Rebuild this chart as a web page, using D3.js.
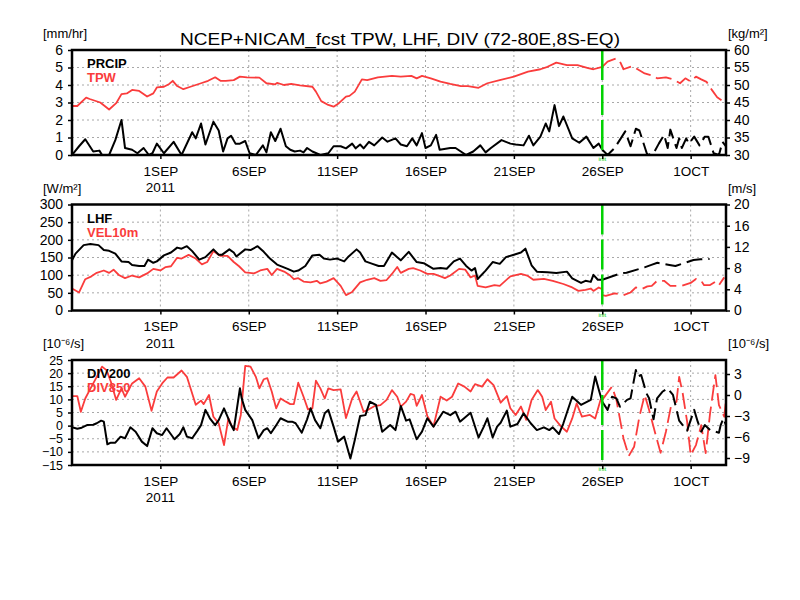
<!DOCTYPE html>
<html>
<head>
<meta charset="utf-8">
<script src="https://cdn.jsdelivr.net/npm/d3@7"></script>
<style>
  body { margin: 0; background: #fff; }
  svg { display: block; }
  text { font-family: "Liberation Sans", Arial, sans-serif; }
</style>
</head>
<body>
<svg id="chart" width="800" height="600"></svg>
<script>
// ---------------- DATA (day offset from 27 Aug 2011 00Z, value) ----------------
const startDate = Date.UTC(2011, 7, 27);
const initDay = 30; // 26 SEP 2011
const titleText = "NCEP+NICAM_fcst TPW, LHF, DIV (72-80E,8S-EQ)";
const tickDays = [5, 10, 15, 20, 25, 30, 35];
const tickLabels = ["1SEP", "6SEP", "11SEP", "16SEP", "21SEP", "26SEP", "1OCT"];
const yearLabel = "2011";

// Panel 1: PRCIP [mm/hr] (left), TPW [kg/m2] (right)
const prcipObs = [[0,0],[0.4,0.5],[0.75,0.9],[1.2,0.2],[1.55,0.25],[1.7,0],[2.1,0],[2.45,0.85],[2.8,2.0],[3.0,0.4],[3.4,0.3],[3.7,0.1],[4.05,0.4],[4.35,0],[4.55,0.1],[4.8,0.65],[5.2,0.1],[5.75,0.75],[6.2,0],[6.8,1.3],[7.0,0.95],[7.3,1.8],[7.55,0.6],[8.0,1.9],[8.3,1.4],[8.55,0.2],[8.8,0.95],[9.0,1.1],[9.25,0.65],[9.5,0.65],[9.8,0.8],[10.05,0.1],[10.4,0],[10.8,0.55],[11.0,0.15],[11.25,1.3],[11.5,0.8],[11.8,1.5],[12.1,0.5],[12.35,0.3],[12.6,0.2],[12.9,0.25],[13.1,0.15],[13.3,0.4],[13.6,0.2],[14.05,0],[14.5,0.1],[14.8,0.5],[15.2,0.5],[15.5,0.38],[15.85,0.65],[16.05,0.38],[16.3,0.6],[16.5,0.38],[16.8,0.75],[17.1,0.55],[17.55,1.0],[17.85,0.76],[18.3,0.95],[18.6,0.6],[18.95,0.5],[19.25,0.95],[19.5,0.55],[19.8,1.25],[20.0,0.4],[20.3,0.55],[20.6,1.15],[20.8,0.3],[21.4,0.4],[21.7,0.4],[22.3,0],[22.7,0.2],[23.1,0.55],[23.4,0.15],[23.7,0.4],[24.3,0.85],[24.8,0.65],[25.1,0.6],[25.55,0.55],[25.85,1.1],[26.1,0.55],[26.5,1.05],[26.8,1.8],[27.0,1.35],[27.3,2.85],[27.55,1.65],[27.8,2.2],[28.3,0.95],[28.7,0.7],[29.1,1.05],[29.5,0.4],[29.8,0.65],[30.0,0.3]];
const prcipFcst = [[30.0,0.3],[30.3,0],[30.7,0.4],[31.05,0.95],[31.3,1.35],[31.6,0.5],[31.9,1.5],[32.1,1.4],[32.55,0],[32.9,0.1],[33.2,0.65],[33.5,1.15],[33.7,0.4],[33.85,1.45],[34.2,0.4],[34.35,0.95],[34.5,0.4],[34.75,0.95],[34.9,0.65],[35.2,1.05],[35.5,0.55],[35.8,1.05],[36.0,1.05],[36.3,0.1],[36.6,0],[36.8,0.75],[37.0,0.5]];
const tpwObs = [[0,44.0],[0.3,44.0],[0.8,46.4],[1.0,46.0],[1.6,45.0],[2.1,43.0],[2.5,44.8],[2.8,47.4],[3.1,47.6],[3.4,48.6],[3.8,48.3],[4.25,46.7],[4.6,47.6],[4.8,49.3],[5.2,49.5],[5.5,50.3],[5.7,51.2],[5.95,49.7],[6.3,48.8],[6.7,49.5],[7.3,50.5],[7.7,51.2],[8.1,52.2],[8.4,51.2],[8.7,51.2],[9.15,51.4],[9.5,52.4],[9.9,52.2],[10.6,52.1],[11.0,50.5],[11.5,50.2],[11.6,50.6],[12.0,50.0],[12.4,50.3],[12.9,49.9],[13.6,49.5],[13.8,48.1],[14.1,45.4],[14.5,44.3],[14.8,43.8],[15.1,44.8],[15.5,46.7],[15.7,46.9],[16.0,48.1],[16.4,51.6],[16.7,51.4],[17.3,52.2],[17.7,52.4],[18.1,52.6],[18.6,52.4],[19.2,52.6],[19.5,51.9],[19.8,52.6],[20.3,51.9],[20.85,50.95],[21.4,50.3],[22.0,49.7],[22.4,49.7],[23.0,49.2],[23.5,50.5],[24.2,51.4],[25.0,52.4],[25.8,53.8],[26.5,54.5],[26.9,55.2],[27.4,56.4],[28.0,55.7],[28.6,55.7],[29.2,54.8],[29.5,54.5],[30.0,55.2]];
const tpwFcst = [[30.0,55.2],[30.3,56.7],[30.8,57.6],[31.0,56.7],[31.2,54.5],[31.7,55.4],[32.0,54.5],[32.4,53.3],[32.9,52.6],[33.1,51.9],[33.6,52.2],[34.0,51.6],[34.4,50.5],[34.7,51.9],[35.0,51.0],[35.3,52.4],[35.6,51.6],[35.9,50.9],[36.2,48.6],[36.5,46.5],[37.0,44.8]];

// Panel 2: LHF [W/m2] (left), VEL10m [m/s] (right)
const lhfObs = [[0,142],[0.2,161],[0.66,185],[1.04,188],[1.5,185],[1.8,171],[2.1,169],[2.45,161],[2.8,139],[3.2,137],[3.4,129],[3.8,126],[4.1,126],[4.3,144],[4.6,135],[4.8,139],[5.2,156],[5.6,164],[5.95,178],[6.2,175],[6.5,182],[6.8,168],[7.2,144],[7.55,151],[8.0,173],[8.3,158],[8.5,158],[8.9,173],[9.15,164],[9.3,153],[9.8,173],[10.1,171],[10.5,182],[10.85,166],[11.2,147],[11.6,130],[12.2,118],[12.55,110],[12.8,113],[13.2,126],[13.6,156],[14.0,158],[14.25,147],[14.6,144],[15.0,147],[15.4,139],[15.65,153],[16.1,173],[16.3,164],[16.6,139],[17.0,132],[17.35,126],[17.65,126],[18.1,164],[18.4,151],[18.6,142],[19.05,166],[19.5,137],[19.9,134],[20.45,118],[20.85,120],[21.2,118],[21.6,139],[21.95,147],[22.3,126],[22.6,113],[22.8,120],[22.95,89],[23.4,113],[23.8,137],[24.2,132],[24.55,151],[25.0,158],[25.4,164],[25.65,175],[26.0,128],[26.3,110],[26.9,108],[27.4,106],[28.0,110],[28.3,91],[28.8,78],[29.05,84],[29.35,81],[29.5,101],[29.75,87],[30.0,87]];
const lhfFcst = [[30.0,87],[31.03,105],[31.37,107],[32.39,122],[32.78,129],[33.12,135],[33.8,129],[34.14,126],[35.16,143],[35.56,145],[36.07,146]];
const velObs = [[0,4.15],[0.4,3.4],[0.75,5.9],[1.1,6.45],[1.4,7.1],[1.8,7.55],[2.1,7.1],[2.35,7.7],[2.65,6.7],[3.0,6.1],[3.4,6.6],[3.8,6.25],[4.25,7.0],[4.6,7.85],[5.0,7.55],[5.3,8.2],[5.6,8.35],[5.95,9.95],[6.2,9.8],[6.6,10.5],[7.0,9.8],[7.35,8.7],[7.65,9.15],[8.0,11.2],[8.4,10.3],[8.8,10.3],[9.15,9.15],[9.45,8.35],[9.8,7.2],[10.3,7.0],[10.65,7.55],[11.05,7.85],[11.3,6.7],[11.6,7.85],[12.0,7.35],[12.35,6.6],[12.55,5.9],[12.8,6.1],[13.1,5.45],[13.5,5.3],[13.85,5.6],[14.05,5.1],[14.4,5.45],[14.8,6.1],[15.2,4.65],[15.5,2.9],[15.85,3.5],[16.3,5.3],[16.7,5.8],[17.1,6.1],[17.45,5.6],[17.8,5.75],[18.1,6.9],[18.4,8.2],[18.6,7.1],[19.05,7.85],[19.3,8.0],[19.7,7.55],[20.1,6.9],[20.45,6.9],[20.85,6.45],[21.1,6.1],[21.4,6.6],[21.9,7.85],[22.25,7.7],[22.55,6.25],[22.8,6.6],[22.95,4.65],[23.4,4.35],[23.9,4.8],[24.2,4.65],[24.8,6.45],[25.4,6.9],[25.75,6.6],[26.1,5.8],[26.7,5.95],[27.2,5.6],[27.8,5.0],[28.3,4.35],[28.65,3.7],[29.05,3.9],[29.35,4.15],[29.5,3.7],[29.8,4.35],[30.0,4.0]];
const velFcst = [[30.0,2.9],[30.2,2.75],[30.7,3.25],[31.2,2.9],[31.6,3.4],[31.9,4.35],[32.2,4.0],[32.55,4.55],[32.8,4.65],[33.1,5.6],[33.5,5.6],[33.85,4.65],[34.5,4.65],[35.0,5.2],[35.3,5.95],[35.6,5.6],[35.75,4.8],[36.1,4.8],[36.4,5.45],[36.6,4.8],[36.9,6.25]];

// Panel 3: DIV200 (left), DIV850 (right) [10^-6/s]
const div200Obs = [[0,-0.65],[0.3,-1.2],[0.55,-0.8],[0.85,0.2],[1.2,0.35],[1.4,0.9],[1.65,1.9],[1.8,1.5],[2.0,-7.1],[2.2,-6.5],[2.45,-6.5],[2.75,-4.2],[3.0,-4.8],[3.3,-0.65],[3.6,-2.3],[3.95,-6.1],[4.25,-7.8],[4.55,-1.0],[4.8,-2.9],[5.1,-3.6],[5.35,-1.0],[5.8,-5.2],[6.1,-3.2],[6.3,-0.65],[6.5,-4.2],[6.8,-4.8],[7.1,-1.9],[7.3,0.2],[7.55,6.0],[7.8,2.8],[8.1,0.2],[8.3,2.1],[8.6,6.6],[8.8,3.4],[8.95,0.9],[9.15,-1.7],[9.5,14.2],[9.6,10.4],[9.8,6.0],[10.2,2.1],[10.55,-4.8],[10.85,-1.7],[11.05,-1.0],[11.25,-2.9],[11.5,-0.4],[11.8,2.8],[12.2,1.5],[12.45,1.5],[12.65,0.9],[13.0,-2.7],[13.3,2.4],[13.5,6.6],[13.75,2.1],[14.05,-1.0],[14.3,4.7],[14.5,6.0],[14.8,-0.4],[15.05,-6.1],[15.4,-4.2],[15.75,-12.5],[16.0,-5.5],[16.3,3.7],[16.6,4.0],[16.85,9.1],[17.2,7.9],[17.55,-2.3],[18.0,0.2],[18.3,-1.7],[18.6,7.5],[18.9,1.9],[19.1,2.4],[19.5,-5.2],[19.8,-2.3],[20.1,2.8],[20.45,-0.4],[21.0,5.3],[21.4,4.0],[21.7,5.3],[21.95,1.5],[22.55,4.9],[23.0,-4.5],[23.3,-0.4],[23.5,2.8],[23.8,-4.5],[24.05,-0.4],[24.25,1.1],[24.6,5.7],[24.8,-0.4],[25.2,0.6],[25.55,4.7],[25.95,0.9],[26.3,-1.7],[26.7,-0.65],[27.0,-1.7],[27.2,-0.65],[27.55,-3.2],[27.8,0.9],[28.3,11.0],[28.5,9.8],[28.8,7.9],[29.35,9.8],[29.6,18.7],[29.8,13.8],[30.0,9.1]];
const div200Fcst = [[30.0,9.1],[30.3,6.0],[30.55,11.0],[30.8,10.4],[31.0,7.2],[31.4,9.8],[31.6,10.4],[31.9,21.2],[32.0,18.7],[32.2,19.3],[32.5,12.3],[32.65,10.4],[32.9,2.4],[33.1,10.4],[33.4,12.9],[33.7,14.2],[34.0,11.7],[34.35,1.9],[34.8,-1.9],[35.2,6.0],[35.4,1.5],[35.6,-2.3],[35.8,0.2],[36.1,-1.7],[36.6,-2.7],[36.7,0.2],[36.85,2.8],[37.0,0.2]];
const div850Obs = [[0,-0.15],[0.3,-0.15],[0.5,-2.4],[0.75,-0.5],[1.05,0.95],[1.4,2.6],[1.7,4.05],[1.95,3.55],[2.2,1.9],[2.5,-0.7],[2.8,0.95],[3.0,-0.25],[3.4,1.65],[3.8,2.4],[4.15,1.2],[4.5,-2.25],[4.8,0.5],[5.1,1.65],[5.4,2.5],[5.75,2.5],[6.2,3.5],[6.5,2.6],[7.0,-1.4],[7.3,-0.8],[7.45,-1.3],[7.75,0],[8.0,-3.1],[8.3,-4.05],[8.6,-7.15],[8.85,-3.3],[9.05,-4.5],[9.35,-5.0],[9.55,-2.85],[9.8,4.15],[10.1,4.05],[10.4,2.6],[10.6,0.95],[10.85,2.25],[11.05,2.4],[11.3,0.5],[11.55,-1.9],[11.8,-0.5],[12.1,-0.95],[12.35,-1.3],[12.55,-1.3],[12.8,1.75],[13.1,-0.25],[13.35,-2.05],[13.6,-1.9],[13.8,2.05],[14.05,0.95],[14.3,-0.5],[14.5,0.95],[14.8,0.7],[15.2,0.8],[15.5,-3.3],[15.85,-0.5],[16.1,0.5],[16.5,-2.4],[16.8,-2.05],[17.1,-1.6],[17.45,-1.45],[17.8,-0.7],[18.1,0.7],[18.4,-0.25],[18.6,-1.65],[18.9,-0.95],[19.15,0.15],[19.35,0],[19.5,-1.55],[19.8,0],[20.1,-3.0],[20.45,-4.5],[20.85,-0.25],[21.2,-0.8],[21.5,-0.25],[21.85,1.65],[22.2,1.2],[22.55,0.5],[22.8,1.55],[23.2,1.2],[23.5,2.25],[23.85,1.4],[24.25,-1.1],[24.6,-0.15],[24.8,-1.9],[25.1,-2.85],[25.4,-1.65],[25.7,-3.55],[26.0,-0.7],[26.35,0.7],[26.6,-0.25],[26.8,-2.15],[27.1,-0.95],[27.3,-3.35],[27.65,-4.45],[28.0,-5.25],[28.3,-3.35],[28.55,-1.2],[28.85,-3.1],[29.3,-2.85],[29.6,-3.35],[29.9,-0.7],[30.0,-0.7]];
const div850Fcst = [[30.0,-0.7],[30.4,0.7],[30.55,1.2],[30.8,-0.7],[31.2,-6.2],[31.5,-8.7],[31.8,-7.4],[32.1,-3.1],[32.4,0],[32.65,-2.15],[33.0,-5.5],[33.3,-8.25],[33.6,-5.25],[33.9,-1.45],[34.2,-0.95],[34.35,2.6],[34.55,0.25],[34.8,-3.8],[35.0,-8.6],[35.3,-7.15],[35.6,-4.3],[35.85,-8.3],[36.1,-2.6],[36.4,2.85],[36.6,-1.45],[36.9,-3.1],[37.0,-0.7]];

// Axis settings
const panels = [
  { top: 50, bottom: 155,
    left: { domain: [0, 6], ticks: [0,1,2,3,4,5,6], unit: "[mm/hr]" },
    right: { domain: [30, 60], ticks: [30,35,40,45,50,55,60], unit: "[kg/m²]" },
    names: ["PRCIP", "TPW"],
    black: [prcipObs, prcipFcst], red: [tpwObs, tpwFcst] },
  { top: 204.5, bottom: 310.5,
    left: { domain: [0, 300], ticks: [0,50,100,150,200,250,300], unit: "[W/m²]" },
    right: { domain: [0, 20], ticks: [0,4,8,12,16,20], unit: "[m/s]" },
    names: ["LHF", "VEL10m"],
    black: [lhfObs, lhfFcst], red: [velObs, velFcst] },
  { top: 360, bottom: 465,
    left: { domain: [-15, 25], ticks: [-15,-10,-5,0,5,10,15,20,25], unit: "[10⁻⁶/s]" },
    right: { domain: [-10, 5], ticks: [-9,-6,-3,0,3], unit: "[10⁻⁶/s]" },
    names: ["DIV200", "DIV850"],
    black: [div200Obs, div200Fcst], red: [div850Obs, div850Fcst] }
];

// ---------------- DRAW ----------------
const svg = d3.select("#chart");
const X0 = 72, X1 = 726;
const RED = "#fa3c3c", GREEN = "#00d200", GRID = "#a8a8a8";
const x = d3.scaleLinear().domain([0, 37]).range([X0, X1]);

svg.append("text").attr("x", 400).attr("y", 45).attr("text-anchor", "middle")
  .attr("font-size", 17).attr("textLength", 440).attr("lengthAdjust", "spacingAndGlyphs")
  .text(titleText);

panels.forEach((p, i) => {
  const g = svg.append("g");
  const yL = d3.scaleLinear().domain(p.left.domain).range([p.bottom, p.top]);
  const yR = d3.scaleLinear().domain(p.right.domain).range([p.bottom, p.top]);
  const spacing = Math.abs(yL(p.left.ticks[1]) - yL(p.left.ticks[0]));
  const yFont = Math.min(14, spacing * 0.95);

  const clipId = "clip" + i;
  svg.append("clipPath").attr("id", clipId).append("rect")
    .attr("x", X0).attr("y", p.top).attr("width", X1 - X0).attr("height", p.bottom - p.top);

  // grid
  const grid = g.append("g").attr("stroke", GRID).attr("stroke-width", 1).attr("stroke-dasharray", "2,3");
  p.left.ticks.filter(t => t !== p.left.domain[0] && t !== p.left.domain[1]).forEach(t => {
    grid.append("line").attr("x1", X0).attr("x2", X1).attr("y1", yL(t)).attr("y2", yL(t));
  });
  tickDays.forEach(d => {
    grid.append("line").attr("x1", x(d)).attr("x2", x(d)).attr("y1", p.top).attr("y2", p.bottom);
  });

  // lines
  const lineL = d3.line().x(d => x(d[0])).y(d => yL(d[1]));
  const lineR = d3.line().x(d => x(d[0])).y(d => yR(d[1]));
  const lg = g.append("g").attr("clip-path", `url(#${clipId})`).attr("fill", "none")
    .attr("stroke-linejoin", "round");
  lg.append("path").datum(p.red[0]).attr("d", lineR).attr("stroke", RED).attr("stroke-width", 1.8);
  lg.append("path").datum(p.red[1]).attr("d", lineR).attr("stroke", RED).attr("stroke-width", 1.8)
    .attr("stroke-dasharray", "16,6");
  lg.append("path").datum(p.black[0]).attr("d", lineL).attr("stroke", "#000").attr("stroke-width", 2);
  lg.append("path").datum(p.black[1]).attr("d", lineL).attr("stroke", "#000").attr("stroke-width", 2)
    .attr("stroke-dasharray", "16,6");

  // init line
  g.append("line").attr("x1", x(initDay)).attr("x2", x(initDay)).attr("y1", p.top).attr("y2", p.bottom)
    .attr("stroke", GREEN).attr("stroke-width", 2.5).attr("stroke-dasharray", "30,5");
  g.append("text").attr("x", x(initDay)).attr("y", p.bottom + 6).attr("text-anchor", "middle")
    .attr("font-size", 6).attr("fill", GREEN).text("init");

  // frame
  g.append("rect").attr("x", X0).attr("y", p.top).attr("width", X1 - X0).attr("height", p.bottom - p.top)
    .attr("fill", "none").attr("stroke", "#000").attr("stroke-width", 2.5);

  // axes
  const axL = d3.axisLeft(yL).tickValues(p.left.ticks).tickSize(4).tickPadding(5).tickFormat(d3.format("d"));
  const axR = d3.axisRight(yR).tickValues(p.right.ticks).tickSize(4).tickPadding(4).tickFormat(d3.format("d"));
  const axB = d3.axisBottom(x).tickValues(tickDays).tickSize(4).tickPadding(7)
    .tickFormat((d, k) => tickLabels[k]);
  [[axL, X0, 0, yFont], [axR, X1, 0, 14], [axB, 0, p.bottom, 13.5]].forEach(([ax, tx, ty, fs]) => {
    const a = g.append("g").attr("transform", `translate(${tx},${ty})`).call(ax);
    a.select(".domain").remove();
    a.selectAll("line").attr("stroke", "#000").attr("stroke-width", 1.5);
    a.selectAll("text").attr("font-size", fs).attr("fill", "#000")
      .attr("font-family", '"Liberation Sans", Arial, sans-serif')
      .text(function () { return d3.select(this).text().replace("-", "\u2212"); });
  });
  g.append("text").attr("x", x(tickDays[0])).attr("y", p.bottom + 37).attr("text-anchor", "middle")
    .attr("font-size", 13.5).text(yearLabel);

  // units
  g.append("text").attr("x", 43).attr("y", p.top - 12).attr("font-size", 13).text(p.left.unit);
  g.append("text").attr("x", 728).attr("y", p.top - 12).attr("font-size", 13).text(p.right.unit);

  // legend
  g.append("text").attr("x", 87).attr("y", p.top + 18).attr("font-size", 13).attr("font-weight", "bold")
    .attr("fill", "#000").text(p.names[0]);
  g.append("text").attr("x", 87).attr("y", p.top + 32).attr("font-size", 13).attr("font-weight", "bold")
    .attr("fill", RED).text(p.names[1]);
});
</script>
</body>
</html>
